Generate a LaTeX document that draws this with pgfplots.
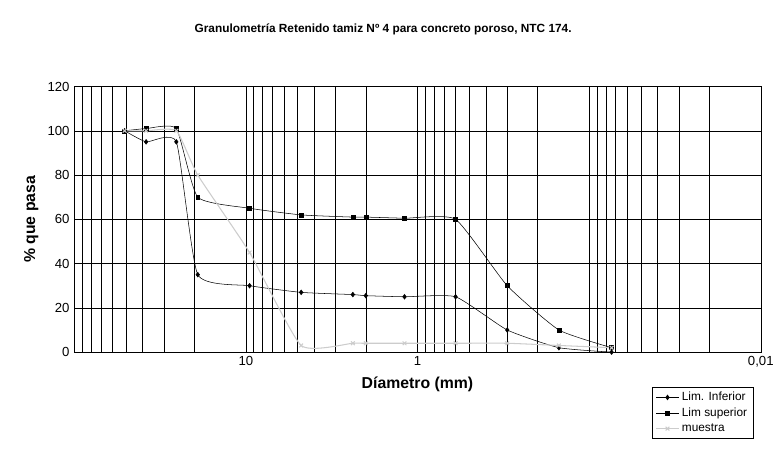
\documentclass[border=0pt]{standalone}
\usepackage{pgfplots}
\pgfplotsset{compat=1.18}
\usepackage{fontspec}
\setmainfont{Liberation Sans}
\begin{document}
\begin{tikzpicture}
\path (0,0) rectangle (20.58cm,12.3cm);
\begin{axis}[at={(1.98cm,2.9cm)},anchor=south west,
 width=18.33cm,height=7.09cm,scale only axis,
 xmode=log,x dir=reverse,xmin=0.01,xmax=100,ymin=0,ymax=120,
 ytick={0,20,...,120},
 xtick={10,1,0.01},xticklabels={10,1,{0,01}},
 minor xtick={20,30,40,50,60,70,80,90,2,3,4,5,6,7,8,9,0.2,0.3,0.4,0.5,0.6,0.7,0.8,0.9,0.1,0.02,0.03,0.04,0.05,0.06,0.07,0.08,0.09},
 xmajorgrids,xminorgrids,ymajorgrids,
 grid style={black,thin},minor grid style={black,thin},
 tick style={draw=none},
 /pgf/number format/assume math mode=true,
 ticklabel style={font=\normalsize},
 xlabel={\textbf{Díametro (mm)}},ylabel={\textbf{\% que pasa}},
 label style={font=\large},
 title={\textbf{Granulometría Retenido tamiz Nº 4 para concreto poroso, NTC 174.}},
 title style={font=\small,at={(0.45,1)},yshift=1.05cm},
 legend style={at={(0.99,-0.13)},anchor=north east,font=\small,cells={anchor=west},draw=black},
 ]
\addplot[black,smooth,tension=0.3,mark=diamond*,mark size=1.8pt] coordinates {
(50.8,100)(38.1,95)(25.4,95)(19.05,35)(9.51,30)(4.76,27)(2.38,26)(2.0,25.5)(1.19,25)(0.6,25)(0.3,10)(0.15,2)(0.074,0)};
\addlegendentry{Lim. Inferior}
\addplot[black,smooth,tension=0.3,mark=square*,mark size=1.5pt] coordinates {
(50.8,100)(38.1,101)(25.4,101)(19.05,70)(9.51,65)(4.76,62)(2.38,61)(2.0,61)(1.19,60.5)(0.6,60)(0.3,30)(0.15,10)(0.074,2)};
\addlegendentry{Lim superior}
\addplot[gray!40,smooth,tension=0.3,mark=x,mark size=2pt,thick] coordinates {
(50.8,100)(38.1,100)(25.4,100)(19.05,80)(9.51,45)(4.76,3)(2.38,4)(2.0,4)(1.19,4)(0.6,4)(0.3,4)(0.15,3)(0.074,2)};
\addlegendentry{muestra}
\end{axis}
\end{tikzpicture}
\end{document}
